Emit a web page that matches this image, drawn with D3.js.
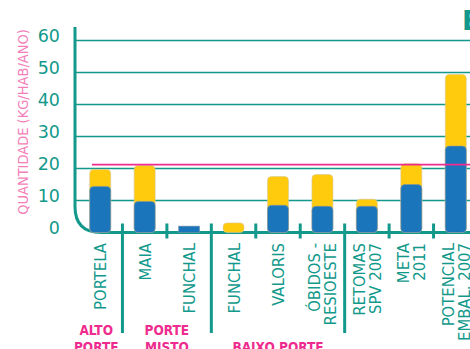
<!DOCTYPE html>
<html>
<head>
<meta charset="utf-8">
<script src="https://cdn.jsdelivr.net/npm/d3@7"></script>
<style>
  html, body { margin: 0; padding: 0; background: #fff; overflow: hidden; }
  svg { display: block; }
</style>
</head>
<body>
<svg id="graph" width="470" height="349"></svg>
<script>
/*******************************************************************************************/
// Data

var categories = [["PORTELA"], ["MAIA"], ["FUNCHAL"], ["FUNCHAL"], ["VALORIS"],
                  ["ÓBIDOS -", "RESIOESTE"], ["RETOMAS", "SPV 2007"], ["META", "2011"],
                  ["POTENCIAL", "EMBAL. 2007"]];
var blueValues   = [14.4, 9.7, 2, 0, 8.5, 8.2, 8.2, 15, 27];
var yellowValues = [5.3, 11.2, 0, 3, 9, 9.9, 2.2, 6.5, 22.4];
var yTicks = [0, 10, 20, 30, 40, 50, 60];
var refValue = 21.2;
var groupLabels = [["ALTO", "PORTE"], ["PORTE", "MISTO"], ["BAIXO PORTE"]];
var groupStart = [0, 1, 3];
var groupEnd   = [0, 2, 5];

var teal = '#12998b', pink = '#ee2b8e', blue = '#1b75bb', yellow = '#ffcb0c';

/*******************************************************************************************/
// Scales

var svg = d3.select('#graph');
var idx = d3.range(categories.length);
var xScale = d3.scaleBand().domain(idx).range([78, 478]);
var yScale = d3.scaleLinear().domain([0, 60]).range([232.5, 40.5]);
var step = xScale.step(), barW = 21, base = yScale(0);

/*******************************************************************************************/
// Grid and axes

svg.append('g').selectAll('line').data(yTicks.slice(1)).join('line')
  .attr('x1', 76).attr('x2', 470)
  .attr('y1', function(d){ return yScale(d) }).attr('y2', function(d){ return yScale(d) })
  .style('stroke', teal).style('stroke-width', 1.3);

svg.append('g').selectAll('text').data(yTicks).join('text')
  .attr('x', 60).attr('y', function(d){ return yScale(d) + 1 })
  .attr('text-anchor', 'end')
  .style('font-family', 'DejaVu Sans').style('font-size', '17.5px').style('fill', teal)
  .text(function(d){ return d });

svg.append('text')
  .attr('transform', 'translate(28,122) rotate(-90)')
  .attr('text-anchor', 'middle')
  .style('font-family', 'DejaVu Sans Condensed').style('font-size', '14.5px').style('fill', '#f47fb9')
  .text('QUANTIDADE (KG/HAB/ANO)');

// axis with rounded corner
var r = 26;
svg.append('path')
  .attr('d', 'M75,27 L75,' + (base - r) + ' Q75,' + base + ' ' + (75 + r) + ',' + base + ' L470,' + base)
  .style('fill', 'none').style('stroke', teal).style('stroke-width', 3);

// ticks, long ones split the groups
svg.append('g').selectAll('line').data(idx.slice(0, -1)).join('line')
  .attr('x1', function(i){ return xScale(i) + step }).attr('x2', function(i){ return xScale(i) + step })
  .attr('y1', base - 9)
  .attr('y2', function(i){ return groupEnd.indexOf(i) >= 0 ? 333 : base + 6 })
  .style('stroke', teal).style('stroke-width', 3);

/*******************************************************************************************/
// Bars

function placeBar(sel){
  sel.attr('x', function(i){ return xScale(i) + step/2 - barW/2 }).attr('width', barW)
     .attr('rx', 4).attr('ry', 4);
}

var bars = svg.append('g');
bars.selectAll('rect.y').data(idx.filter(function(i){ return yellowValues[i] > 0 })).join('rect')
  .attr('class', 'y').call(placeBar)
  .attr('y', function(i){ return yScale(blueValues[i] + yellowValues[i]) })
  .attr('height', function(i){ return base - yScale(blueValues[i] + yellowValues[i]) })
  .style('fill', yellow).style('stroke', '#d8c89a').style('stroke-width', 0.6);

bars.selectAll('rect.b').data(idx.filter(function(i){ return blueValues[i] > 0 })).join('rect')
  .attr('class', 'b').call(placeBar)
  .attr('rx', function(i){ return blueValues[i] < 3 ? 0 : 4 })
  .attr('ry', function(i){ return blueValues[i] < 3 ? 0 : 4 })
  .attr('y', function(i){ return yScale(blueValues[i]) })
  .attr('height', function(i){ return base - yScale(blueValues[i]) })
  .style('fill', blue).style('stroke', '#7f97a8').style('stroke-width', 0.6);

// reference line
svg.append('line')
  .attr('x1', 92).attr('x2', 470).attr('y1', yScale(refValue)).attr('y2', yScale(refValue))
  .style('stroke', pink).style('stroke-width', 1.8);

/*******************************************************************************************/
// Category labels

svg.append('g').selectAll('g').data(idx).join('g').each(function(i){
  var lines = categories[i];
  var g = d3.select(this);
  lines.forEach(function(t, k){
    var cx = xScale(i) + step/2 + (k - (lines.length - 1)/2) * 16;
    g.append('text')
      .attr('transform', 'translate(' + (cx + 6) + ',243) rotate(-90)')
      .attr('text-anchor', 'end')
      .style('font-family', 'DejaVu Sans Condensed').style('font-size', '16.5px').style('fill', teal)
      .text(t);
  });
});

// Group labels
groupLabels.forEach(function(lines, gI){
  var x0 = gI == 0 ? 70 : xScale(groupStart[gI]);
  var x1 = xScale(groupEnd[gI]) + step;
  lines.forEach(function(t, k){
    svg.append('text')
      .attr('x', (x0 + x1)/2).attr('y', (lines.length == 1 ? 352 : 335 + k*17))
      .attr('text-anchor', 'middle')
      .style('font-family', 'DejaVu Sans Condensed').style('font-weight', 'bold')
      .style('font-size', '13.5px').style('fill', pink)
      .text(t);
  });
});

// cut-off title
svg.append('text').attr('x', 462).attr('y', 30)
  .style('font-family', 'DejaVu Sans').style('font-weight', 'bold').style('font-size', '27px').style('fill', teal)
  .text('E');
</script>
</body>
</html>
